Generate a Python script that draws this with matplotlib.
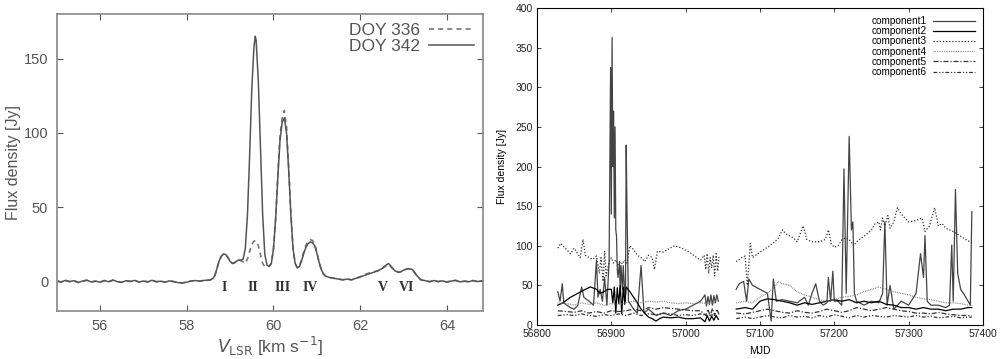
import numpy as np
import matplotlib
matplotlib.use("Agg")
import matplotlib.pyplot as plt

plt.rcParams['font.family'] = ['Liberation Sans', 'DejaVu Sans']

# ---- left panel: spectrum ----
nan = np.nan
vel_lo = [55.0, 55.1, 55.2, 55.3, 55.4, 55.5, 55.6, 55.7, 55.8, 55.9,
          56.0, 56.1, 56.2, 56.3, 56.4, 56.5, 56.6, 56.7, 56.8, 56.9,
          57.0, 57.1, 57.2, 57.3, 57.4, 57.5, 57.6, 57.7, 57.8, 57.9,
          58.0, 58.1, 58.2, 58.3, 58.4]
flux_lo = [0.3, -0.5, 0.6, -0.2, 0.4, -0.8, 0.2, 0.7, -0.4, 0.1,
           -0.6, 0.5, -0.3, 0.8, -0.2, -0.7, 0.4, -0.1, 0.6, -0.5,
           0.2, -0.4, 0.7, -0.3, 0.1, -0.6, 0.3, -0.2, -0.9, -1.1,
           -0.6, 0.2, 0.5, 0.1, 0.6]
vel_mid = [58.50, 58.55, 58.60, 58.65, 58.70, 58.75, 58.80, 58.85, 58.90, 58.95,
           59.00, 59.05, 59.10, 59.15, 59.20, 59.25, 59.30, 59.35, 59.40, 59.45,
           59.50, 59.55, 59.58, 59.60, 59.65, 59.70, 59.75, 59.80, 59.85, 59.90,
           59.95, 60.00, 60.05, 60.10, 60.15, 60.20, 60.25, 60.30, 60.35, 60.40,
           60.45, 60.50, 60.55, 60.60, 60.65, 60.70, 60.75, 60.80, 60.85, 60.90,
           60.95, 61.00, 61.05, 61.10, 61.15, 61.20, 61.30, 61.40, 61.50, 61.60,
           61.70, 61.80, 61.90, 62.00, 62.10, 62.20, 62.30, 62.40, 62.50, 62.60,
           62.65, 62.70, 62.80, 62.90, 63.00, 63.10, 63.20, 63.30, 63.40]
doy342_mid = [0.8, 1.0, 1.8, 4.0, 9.0, 14.0, 17.0, 18.5, 18.0, 16.0,
              13.5, 12.0, 12.5, 13.5, 14.5, 14.0, 15.0, 22.0, 45.0, 85.0,
              130.0, 158.0, 165.0, 162.0, 135.0, 90.0, 45.0, 18.0, 11.0, 10.0,
              12.0, 22.0, 42.0, 70.0, 95.0, 107.0, 110.0, 100.0, 75.0, 45.0,
              22.0, 12.0, 9.0, 10.0, 14.0, 19.0, 23.0, 25.5, 26.5, 26.0,
              24.0, 19.0, 13.0, 8.0, 5.0, 3.5, 2.5, 2.0, 1.5, 1.0,
              1.5, 1.0, 2.0, 3.0, 4.0, 5.0, 6.0, 7.0, 8.5, 11.0,
              12.0, 10.5, 7.0, 6.0, 7.5, 8.5, 8.0, 4.0, 1.0]
doy336_mid = [0.8, 1.0, 1.8, 4.0, 9.0, 14.0, 17.0, 18.5, 18.0, 16.0,
              13.5, 12.0, 12.5, 13.5, 14.5, 14.0, 13.0, 12.0, 15.0, 20.0,
              25.0, 27.0, 27.5, 27.0, 24.0, 18.0, 12.0, 10.0, 10.5, 10.0,
              12.0, 22.0, 43.0, 72.0, 98.0, 110.0, 115.0, 104.0, 77.0, 46.0,
              22.0, 12.0, 9.0, 10.5, 15.0, 20.0, 24.5, 27.0, 28.0, 27.5,
              25.0, 19.5, 13.0, 8.0, 5.0, 3.5, 2.5, 2.0, 1.5, 1.0,
              1.5, 1.0, 2.0, 3.0, 4.5, 5.5, 6.5, 7.0, 8.5, 10.5,
              11.5, 10.0, 7.0, 6.0, 7.5, 8.5, 8.0, 4.0, 1.0]
vel_hi = [63.5, 63.6, 63.7, 63.8, 63.9, 64.0, 64.1, 64.2, 64.3, 64.4,
          64.5, 64.6, 64.7, 64.8, 64.9, 65.0]
flux_hi = [0.4, -0.3, 0.5, -0.2, 0.3, -0.5, 0.2, 0.6, -0.4, 0.1,
           -0.3, 0.5, -0.2, 0.3, -0.4, 0.2]

vel = vel_lo + vel_mid + vel_hi
doy342 = flux_lo + doy342_mid + flux_hi
doy336 = flux_lo + doy336_mid + flux_hi

comp_labels = ['I', 'II', 'III', 'IV', 'V', 'VI']
comp_vel = [58.86, 59.53, 60.22, 60.84, 62.53, 63.06]

# ---- right panel: light curves ----
mjd1 = [56828, 56831, 56834, 56836, 56840, 56845, 56850, 56855, 56860, 56863,
        56870, 56876, 56880, 56882, 56885, 56888, 56891, 56894, 56897, 56899,
        56900, 56901, 56902, 56903, 56904, 56905, 56906, 56907, 56908, 56909,
        56911, 56912, 56913, 56915, 56916, 56918, 56919, 56920, 56921, 56923,
        56930, 56935, 56940, 56944, 56950, 56960, 56970, 56980, 56990, 57000,
        57010, 57020, 57026, 57028, 57030, 57032, 57034, 57036, 57038, 57040,
        57042, 57044, 57055,
        57068, 57072, 57078, 57082, 57085, 57090, 57100, 57110, 57115, 57118,
        57122, 57130, 57140, 57150, 57160, 57165, 57170, 57175, 57180, 57185,
        57190, 57192, 57195, 57198, 57200, 57205, 57210, 57213, 57216, 57220,
        57223, 57225, 57227, 57230, 57240, 57250, 57260, 57265, 57268, 57271,
        57275, 57280, 57290, 57300, 57310, 57316, 57320, 57322, 57325, 57330,
        57340, 57350, 57355, 57358, 57360, 57363, 57366, 57370, 57375, 57380,
        57383, 57385]
comp1 = [42, 30, 52, 28, 25, 22, 20, 25, 48, 35,
         30, 25, 82, 35, 45, 30, 60, 25, 80, 325,
         140, 363, 200, 270, 135, 250, 120, 112, 70, 60,
         80, 40, 75, 45, 75, 40, 30, 227, 150, 30,
         20, 15, 75, 15, 20, 12, 15, 12, 18, 20,
         25, 30, 38, 24, 36, 26, 38, 25, 37, 28, 38, 30, nan,
         45, 52, 55, 30, 58, 50, 45, 40, 5, 58,
         30, 32, 30, 28, 35, 25, 40, 52, 30, 25,
         28, 60, 30, 68, 30, 30, 25, 197, 40, 238,
         120, 130, 40, 30, 25, 30, 28, 40, 130, 25,
         50, 20, 30, 25, 40, 90, 60, 113, 30, 25,
         25, 22, 25, 101, 30, 171, 65, 45, 38, 30,
         25, 143]

mjd2 = [56828, 56835, 56845, 56855, 56865, 56872, 56880, 56885, 56890, 56895,
        56900, 56902, 56904, 56906, 56908, 56910, 56912, 56914, 56916, 56918,
        56920, 56925, 56930, 56935, 56940, 56945, 56950, 56955, 56960, 56965,
        56970, 56980, 56990, 57000, 57010, 57020, 57026, 57029, 57032, 57035,
        57038, 57041, 57044, 57055,
        57068, 57080, 57090, 57100, 57110, 57120, 57130, 57140, 57150, 57160,
        57170, 57180, 57190, 57200, 57210, 57220, 57230, 57240, 57250, 57260,
        57270, 57280, 57290, 57300, 57310, 57320, 57330, 57340, 57350, 57360,
        57370, 57380, 57385]
comp2 = [25, 28, 35, 40, 45, 48, 45, 40, 42, 45,
         45, 28, 48, 15, 47, 27, 50, 14, 48, 26,
         48, 42, 35, 28, 20, 15, 10, 8, 5, 8,
         10, 9, 10, 8, 8, 9, 4, 12, 5, 11,
         6, 12, 7, nan,
         20, 22, 20, 30, 33, 32, 30, 28, 25, 28,
         26, 28, 30, 32, 30, 32, 28, 30, 28, 30,
         26, 25, 22, 22, 20, 22, 20, 20, 18, 20,
         20, 22, 22]

mjd3 = [56828, 56832, 56840, 56845, 56850, 56858, 56862, 56865, 56870, 56875,
        56880, 56884, 56886, 56889, 56891, 56893, 56897, 56900, 56903, 56906,
        56909, 56912, 56915, 56918, 56921, 56925, 56930, 56935, 56940, 56945,
        56950, 56955, 56958, 56962, 56970, 56975, 56985, 56995, 57005, 57015,
        57020, 57025, 57027, 57029, 57031, 57033, 57035, 57037, 57039, 57041,
        57043, 57045, 57055,
        57068, 57075, 57080, 57083, 57087, 57090, 57100, 57110, 57120, 57125,
        57130, 57135, 57145, 57150, 57158, 57163, 57170, 57180, 57188, 57192,
        57196, 57200, 57205, 57210, 57215, 57220, 57226, 57230, 57240, 57250,
        57255, 57260, 57262, 57265, 57268, 57272, 57275, 57280, 57285, 57290,
        57295, 57300, 57310, 57318, 57322, 57328, 57335, 57340, 57345, 57350,
        57360, 57370, 57380, 57385]
comp3 = [97, 103, 95, 90, 97, 85, 108, 88, 85, 83,
         87, 65, 85, 55, 93, 62, 80, 85, 78, 82,
         76, 80, 77, 82, 78, 100, 95, 88, 85, 80,
         88, 85, 70, 93, 92, 95, 100, 97, 92, 85,
         82, 88, 70, 90, 65, 85, 72, 88, 62, 90,
         68, 88, nan,
         80, 85, 87, 50, 103, 85, 92, 98, 105, 110,
         120, 115, 110, 105, 125, 108, 105, 105, 108, 120,
         102, 98, 100, 107, 110, 108, 100, 105, 112, 120,
         128, 130, 120, 135, 125, 138, 122, 130, 148, 140,
         135, 130, 132, 135, 118, 125, 148, 125, 128, 122,
         118, 112, 106, 105]

mjd4 = [56828, 56840, 56850, 56860, 56870, 56880, 56890, 56900, 56910, 56920,
        56930, 56940, 56950, 56960, 56970, 56980, 56990, 57000, 57010, 57020,
        57030, 57040, 57055,
        57068, 57080, 57090, 57100, 57110, 57120, 57125, 57130, 57140, 57150,
        57160, 57170, 57180, 57190, 57200, 57210, 57220, 57230, 57240, 57250,
        57260, 57270, 57280, 57290, 57300, 57310, 57320, 57330, 57340, 57350,
        57360, 57370, 57380, 57385]
comp4 = [28, 27, 25, 28, 26, 28, 25, 27, 26, 28,
         30, 28, 30, 29, 30, 28, 27, 28, 27, 28,
         27, 28, nan,
         28, 30, 28, 35, 40, 48, 55, 52, 50, 42,
         38, 35, 32, 30, 32, 35, 36, 38, 42, 45,
         48, 45, 42, 40, 38, 35, 33, 32, 30, 28,
         28, 27, 25, 25]

mjd5 = [56828, 56840, 56850, 56860, 56870, 56880, 56890, 56900, 56910, 56920,
        56930, 56940, 56950, 56960, 56970, 56980, 56990, 57000, 57010, 57020,
        57027, 57030, 57033, 57036, 57039, 57042, 57045, 57055,
        57068, 57080, 57090, 57100, 57110, 57120, 57130, 57140, 57150, 57160,
        57170, 57180, 57190, 57200, 57210, 57220, 57230, 57240, 57250, 57260,
        57270, 57280, 57290, 57300, 57310, 57320, 57330, 57340, 57350, 57360,
        57370, 57380, 57385]
comp5 = [18, 17, 16, 18, 15, 17, 15, 18, 17, 18,
         20, 18, 22, 20, 22, 21, 20, 19, 18, 18,
         12, 20, 11, 21, 12, 20, 13, nan,
         15, 14, 16, 18, 20, 18, 16, 15, 18, 16,
         15, 17, 20, 18, 16, 18, 22, 20, 18, 20,
         22, 20, 18, 17, 15, 15, 14, 16, 14, 13,
         12, 12, 12]

mjd6 = [56828, 56840, 56850, 56860, 56870, 56880, 56890, 56900, 56910, 56920,
        56930, 56940, 56950, 56960, 56970, 56980, 56990, 57000, 57010, 57020,
        57030, 57040, 57055,
        57068, 57080, 57090, 57100, 57110, 57120, 57130, 57140, 57150, 57160,
        57170, 57180, 57190, 57200, 57210, 57220, 57230, 57240, 57250, 57260,
        57270, 57280, 57290, 57300, 57310, 57320, 57330, 57340, 57350, 57360,
        57370, 57380, 57385]
comp6 = [12, 13, 12, 14, 12, 11, 13, 12, 14, 12,
         15, 12, 14, 13, 15, 14, 12, 13, 12, 14,
         12, 13, nan,
         8, 10, 8, 10, 12, 10, 9, 12, 10, 11,
         9, 12, 10, 13, 11, 9, 12, 10, 12, 11,
         10, 12, 11, 10, 12, 10, 11, 9, 10, 11,
         9, 10, 10]

fig = plt.figure(figsize=(10.06, 3.59), dpi=100)

# left panel
gray = '#555555'
ax1 = fig.add_axes([0.0563, 0.1337, 0.4238, 0.8273])
ax1.plot(vel, doy336, color='#777777', lw=1.2, ls=(0, (3, 2.5)), label='DOY 336')
ax1.plot(vel, doy342, color=gray, lw=1.1, label='DOY 342')
ax1.set_xlim(55, 64.83)
ax1.set_ylim(-20, 180)
ax1.set_xticks([56, 58, 60, 62, 64])
ax1.set_yticks([0, 50, 100, 150])
ax1.tick_params(direction='in', top=True, right=True, labelsize=10.5,
                colors=gray, length=4, pad=6)
for s in ax1.spines.values():
    s.set_color('#888888')
    s.set_linewidth(1.2)
ax1.set_ylabel('Flux density [Jy]', fontsize=11.5, color=gray, labelpad=2)
ax1.set_xlabel(r'$V_{\mathrm{LSR}}$ [km s$^{-1}$]', fontsize=12.5, color=gray, labelpad=1)
for lab, v in zip(comp_labels, comp_vel):
    ax1.text(v, -4, lab, ha='center', va='center', fontsize=10,
             family='Liberation Serif', fontweight='bold', color='#333333')
ax1.legend(loc='upper right', frameon=False, markerfirst=False, fontsize=12.5,
           handlelength=2.6, labelspacing=0.05, borderaxespad=0.1,
           handletextpad=0.5, labelcolor=gray)

# right panel
ax2 = fig.add_axes([0.5338, 0.0947, 0.4433, 0.883])
ax2.plot(mjd1, comp1, color='#444444', lw=0.9, label='component1')
ax2.plot(mjd2, comp2, color='black', lw=0.9, label='component2')
ax2.plot(mjd3, comp3, color='#333333', lw=0.9, ls=(0, (1, 1.5)), label='component3')
ax2.plot(mjd4, comp4, color='#777777', lw=0.9, ls=(0, (0.6, 0.8)), label='component4')
ax2.plot(mjd5, comp5, color='#333333', lw=0.9, ls=(0, (4, 1.5, 1, 1.5)), label='component5')
ax2.plot(mjd6, comp6, color='#333333', lw=0.9, ls=(0, (3, 1.5, 1, 1.5, 1, 1.5)), label='component6')
ax2.set_xlim(56800, 57400)
ax2.set_ylim(0, 400)
ax2.set_xticks(np.arange(56800, 57401, 100))
ax2.set_yticks(np.arange(0, 401, 50))
ax2.tick_params(direction='in', top=True, right=True, labelsize=7.5,
                colors='#222222', length=3, width=0.6, pad=3)
for s in ax2.spines.values():
    s.set_linewidth(0.8)
ax2.set_ylabel('Flux density [Jy]', fontsize=7.5, labelpad=6)
ax2.set_xlabel('MJD', fontsize=7.5, labelpad=5)
ax2.legend(loc='upper right', frameon=False, markerfirst=False, fontsize=7.2,
           handlelength=4.2, labelspacing=0.02, borderaxespad=0.4,
           handletextpad=0.6)

fig.savefig('out.png', dpi=100)
